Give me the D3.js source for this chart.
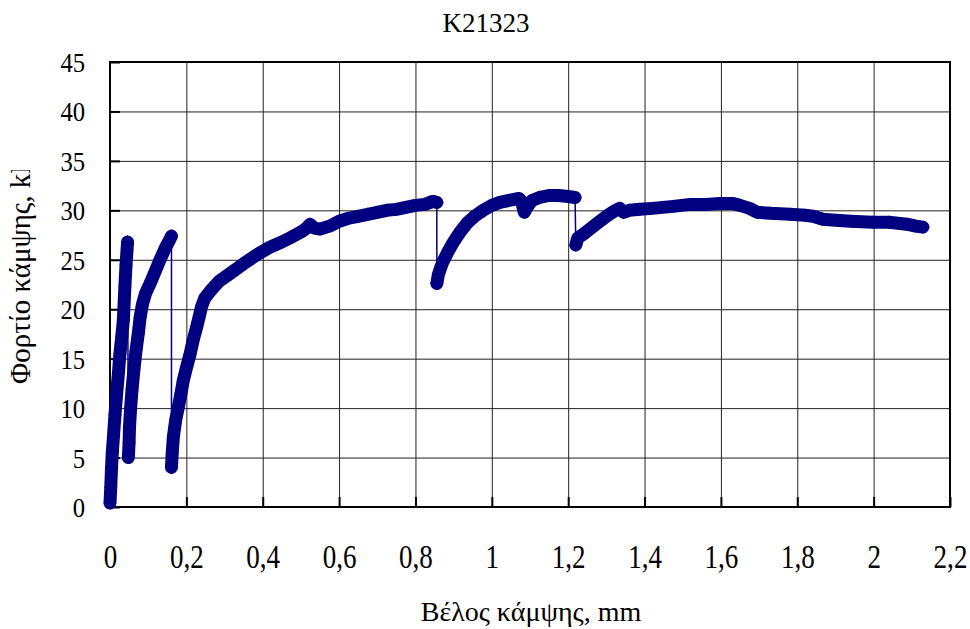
<!DOCTYPE html>
<html>
<head>
<meta charset="utf-8">
<script src="https://cdn.jsdelivr.net/npm/d3@7"></script>
<style>
  body { margin: 0; background: #fff; }
  svg text { font-family: "Liberation Serif", "Times New Roman", "DejaVu Serif", serif; fill: #000; }
</style>
</head>
<body>
<svg width="970" height="629"></svg>
<script>
// tick values
var xTicks = [0, 0.2, 0.4, 0.6, 0.8, 1, 1.2, 1.4, 1.6, 1.8, 2, 2.2];
var yTicks = [0, 5, 10, 15, 20, 25, 30, 35, 40, 45];

// load/deflection curve, one array per loading branch [mm, kN]
var branch1 = [[0,0.4],[0.002,2],[0.004,4],[0.006,5.5],[0.009,7.1],[0.013,9.3],[0.0175,11.5],[0.022,13.5],
  [0.026,15.5],[0.031,17.3],[0.035,18.9],[0.039,22.3],[0.042,24.5],[0.046,26.8]];
var branch2 = [[0.048,5.0],[0.050,6.5],[0.051,8],[0.054,10],[0.058,12],[0.063,14],[0.068,15.8],[0.074,17.5],
  [0.079,19.2],[0.085,20.5],[0.093,21.6],[0.105,22.6],[0.118,23.8],[0.131,25.0],[0.145,26.2],[0.156,27.0],[0.161,27.4]];
var branch3 = [[0.161,4.0],[0.163,5.5],[0.166,7.1],[0.172,8.8],[0.179,10.1],[0.186,11.5],[0.192,12.8],[0.201,14.2],
  [0.210,15.5],[0.218,16.9],[0.227,18.2],[0.234,19.3],[0.240,20.3],[0.248,21.1],[0.262,21.8],[0.285,22.8],
  [0.314,23.6],[0.35,24.6],[0.384,25.5],[0.42,26.3],[0.45,26.8],[0.471,27.2],[0.50,27.8],[0.515,28.2],
  [0.524,28.6],[0.535,28.2],[0.55,28.1],[0.575,28.4],[0.60,28.9],[0.625,29.2],[0.65,29.4],[0.675,29.6],
  [0.70,29.8],[0.725,30.0],[0.75,30.1],[0.775,30.3],[0.80,30.5],[0.825,30.6],[0.845,30.9],[0.856,30.8]];
var branch4 = [[0.856,22.6],[0.860,23.5],[0.866,24.2],[0.872,24.8],[0.885,25.8],[0.898,26.7],[0.915,27.7],
  [0.935,28.7],[0.955,29.4],[0.977,30.0],[1.0,30.5],[1.021,30.8],[1.045,31.0],[1.071,31.2],[1.078,30.9],
  [1.085,29.8],[1.092,30.3],[1.105,31.0],[1.125,31.3],[1.150,31.5],[1.175,31.5],[1.20,31.4],[1.218,31.3]];
var branch5 = [[1.220,26.5],[1.225,27.2],[1.24,27.6],[1.26,28.2],[1.28,28.8],[1.30,29.4],[1.32,29.9],[1.335,30.2],
  [1.345,29.8],[1.36,30.0],[1.388,30.1],[1.42,30.2],[1.475,30.4],[1.52,30.6],[1.56,30.6],[1.598,30.7],
  [1.63,30.7],[1.65,30.5],[1.675,30.2],[1.695,29.8],[1.73,29.7],[1.781,29.6],[1.82,29.5],[1.841,29.4],
  [1.867,29.1],[1.90,29.0],[1.94,28.9],[1.998,28.8],[2.04,28.8],[2.087,28.6],[2.11,28.4],[2.129,28.3]];

var branches = [branch1, branch2, branch3, branch4, branch5];
var allPoints = [].concat(branch1, branch2, branch3, branch4, branch5);

var margin = { top: 62, right: 20, bottom: 122, left: 110 },
    width = 970 - margin.left - margin.right,
    height = 629 - margin.top - margin.bottom;

var svg = d3.select("svg");
var g = svg.append("g")
    .attr("transform", "translate(" + margin.left + "," + margin.top + ")");

var x = d3.scaleLinear().domain([0, 2.2]).range([0, width]);
var y = d3.scaleLinear().domain([0, 45]).range([height, 0]);

var fmt = function(d) { return String(d).replace(".", ","); };

// grid lines
g.append("g")
    .attr("class", "grid")
    .call(d3.axisLeft(y).tickValues(yTicks).tickSize(-width).tickFormat(""))
    .call(function(s) { s.select(".domain").remove(); });
g.append("g")
    .attr("class", "grid")
    .attr("transform", "translate(0," + height + ")")
    .call(d3.axisBottom(x).tickValues(xTicks).tickSize(-height).tickFormat(""))
    .call(function(s) { s.select(".domain").remove(); });
g.selectAll(".grid line").attr("stroke", "#222").attr("stroke-width", 1);

// inside tick marks
g.append("g")
    .attr("class", "ticks")
    .call(d3.axisLeft(y).tickValues(yTicks).tickSize(-10).tickFormat(""));
g.append("g")
    .attr("class", "ticks")
    .attr("transform", "translate(0," + height + ")")
    .call(d3.axisBottom(x).tickValues(xTicks).tickSize(-10).tickFormat(""));
g.selectAll(".ticks line").attr("stroke", "#000").attr("stroke-width", 2);
g.selectAll(".ticks .domain").remove();

// tick labels
var yAxis = g.append("g")
    .call(d3.axisLeft(y).tickValues(yTicks).tickSize(0).tickFormat(fmt));
yAxis.select(".domain").remove();
yAxis.attr("font-family", null);
yAxis.selectAll("text")
    .attr("x", -28.4)
    .attr("dy", "0.34em")
    .attr("transform", "scale(0.88,1)")
    .style("font-size", "28px");

var xAxis = g.append("g")
    .attr("transform", "translate(0," + height + ")")
    .call(d3.axisBottom(x).tickValues(xTicks).tickSize(0).tickFormat(fmt));
xAxis.select(".domain").remove();
xAxis.attr("font-family", null);
xAxis.selectAll("text")
    .attr("y", 61)
    .attr("dy", 0)
    .attr("transform", "scale(0.82,1)")
    .style("font-size", "33px");

// frame
g.append("rect")
    .attr("width", width)
    .attr("height", height)
    .attr("fill", "none")
    .attr("stroke", "#000")
    .attr("stroke-width", 2);

// series
var line = d3.line()
    .x(function(d) { return x(d[0]); })
    .y(function(d) { return y(d[1]); });

var navy = "#000080";

g.append("path")
    .datum(allPoints)
    .attr("fill", "none")
    .attr("stroke", navy)
    .attr("stroke-width", 1.5)
    .attr("d", line);

g.selectAll(".band")
    .data(branches)
    .enter().append("path")
    .attr("class", "band")
    .attr("fill", "none")
    .attr("stroke", navy)
    .attr("stroke-width", 13)
    .attr("stroke-linejoin", "round")
    .attr("stroke-linecap", "round")
    .attr("d", line);

g.selectAll(".pt")
    .data(allPoints)
    .enter().append("path")
    .attr("class", "pt")
    .attr("d", d3.symbol(d3.symbolSquare).size(90))
    .attr("transform", function(d) { return "translate(" + x(d[0]) + "," + y(d[1]) + ") rotate(45)"; })
    .attr("fill", navy);

// title and axis labels
svg.append("text")
    .attr("x", 486)
    .attr("y", 32)
    .attr("text-anchor", "middle")
    .style("font-size", "27px")
    .text("K21323");

svg.append("text")
    .attr("x", 531)
    .attr("y", 621)
    .attr("text-anchor", "middle")
    .style("font-size", "28px")
    .text("Βέλος κάμψης, mm");

// y title is cut off at the top, as in the original
svg.append("clipPath")
    .attr("id", "ylabclip")
    .append("rect")
    .attr("x", 0).attr("y", 170).attr("width", 60).attr("height", 459);

svg.append("g")
    .attr("clip-path", "url(#ylabclip)")
  .append("text")
    .attr("transform", "translate(30,384) rotate(-90)")
    .attr("text-anchor", "start")
    .style("font-size", "29px")
    .text("Φορτίο κάμψης, kN");
</script>
</body>
</html>
